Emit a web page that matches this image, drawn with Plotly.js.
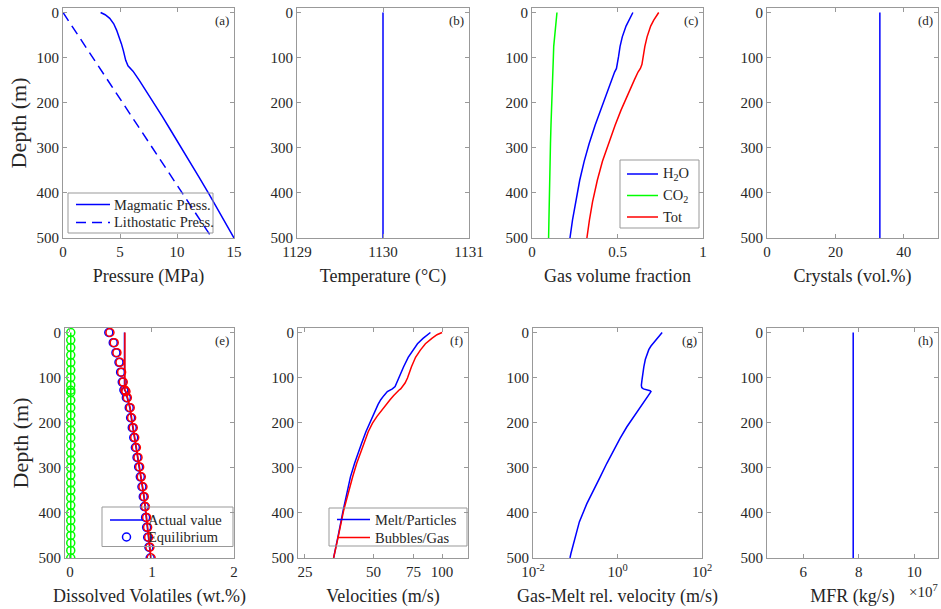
<!DOCTYPE html>
<html><head><meta charset="utf-8">
<script src="https://cdn.plot.ly/plotly-3.0.1.min.js"></script>
<style>html,body{margin:0;padding:0;background:#fff}#chart{width:941px;height:609px}</style>
</head><body><div id="chart"></div>
<script>
// ---- (a) Pressure ----
const depthP = [0, 5, 13, 25, 39, 55, 69, 85, 106, 118, 124, 130, 150, 172, 200, 231, 260, 291, 330, 365, 402, 450, 500];
const magmaticP = [3.3, 3.7, 4.1, 4.45, 4.7, 4.95, 5.12, 5.3, 5.5, 5.7, 5.94, 6.14, 6.68, 7.25, 7.95, 8.72, 9.42, 10.18, 11.1, 11.93, 12.8, 13.9, 15.0];
const depthL = [0, 500];
const lithoP = [0, 13.07];
// ---- (b) Temperature ----
const depthT = [0, 500];
const temperature = [1130, 1130];
// ---- (c) Gas volume fraction ----
const depthG = [0, 8, 17, 30, 54, 75, 98, 115, 124, 132, 150, 175, 200, 217, 250, 291, 330, 372, 420, 460, 500];
const gvfH2O = [0.59, 0.579, 0.566, 0.55, 0.528, 0.515, 0.506, 0.50, 0.494, 0.483, 0.465, 0.44, 0.416, 0.400, 0.369, 0.334, 0.305, 0.279, 0.254, 0.237, 0.222];
const gvfCO2 = [0.146, 0.144, 0.141, 0.137, 0.131, 0.127, 0.125, 0.123, 0.122, 0.121, 0.119, 0.117, 0.115, 0.114, 0.111, 0.108, 0.105, 0.103, 0.100, 0.099, 0.097];
const gvfTot = [0.741, 0.727, 0.712, 0.694, 0.673, 0.66, 0.65, 0.643, 0.634, 0.62, 0.598, 0.568, 0.539, 0.52, 0.486, 0.446, 0.412, 0.382, 0.354, 0.336, 0.321];
// ---- (d) Crystals ----
const depthC = [0, 500];
const crystals = [33, 33];
// ---- (e) Dissolved volatiles ----
const eqDepth = [0, 22.5, 44.7, 66, 88, 110, 127.5, 131, 144.5, 166.7, 189, 211, 233, 255, 277, 298, 320, 342, 364, 386, 410, 432, 454, 476, 500];
const eqTot = [0.488, 0.54, 0.573, 0.61, 0.63, 0.65, 0.67, 0.683, 0.70, 0.735, 0.752, 0.772, 0.79, 0.81, 0.83, 0.85, 0.87, 0.89, 0.906, 0.92, 0.935, 0.947, 0.96, 0.975, 0.99];
const eqH2O = [0.474, 0.528, 0.561, 0.598, 0.618, 0.638, 0.658, 0.671, 0.688, 0.723, 0.74, 0.76, 0.778, 0.798, 0.818, 0.838, 0.858, 0.878, 0.894, 0.908, 0.923, 0.935, 0.948, 0.963, 0.978];
const actDepth = [0, 127.5, 131, 144.5, 166.7, 189, 211, 233, 255, 277, 298, 320, 342, 364, 386, 410, 432, 454, 476, 500];
const actTot = [0.67, 0.67, 0.683, 0.70, 0.735, 0.752, 0.772, 0.79, 0.81, 0.83, 0.85, 0.87, 0.89, 0.906, 0.92, 0.935, 0.947, 0.96, 0.975, 0.99];
const actH2O = [0.665, 0.665, 0.678, 0.695, 0.73, 0.747, 0.767, 0.785, 0.805, 0.825, 0.845, 0.865, 0.885, 0.901, 0.915, 0.93, 0.942, 0.955, 0.97, 0.985];
const co2Depth = [0, 16.7, 33.3, 50, 66.7, 83.3, 100, 116.7, 128, 133, 150, 166.7, 183.3, 200, 216.7, 233.3, 250, 266.7, 283.3, 300, 316.7, 333.3, 350, 366.7, 383.3, 400, 416.7, 433.3, 450, 466.7, 483.3, 500];
const co2Val = [0.01, 0.01, 0.01, 0.01, 0.01, 0.01, 0.01, 0.01, 0.01, 0.01, 0.01, 0.01, 0.01, 0.01, 0.01, 0.01, 0.01, 0.01, 0.01, 0.01, 0.01, 0.01, 0.01, 0.01, 0.01, 0.01, 0.01, 0.01, 0.01, 0.01, 0.01, 0.01];
// ---- (f) Velocities ----
const velDepth = [0, 5, 13, 25, 39, 55, 76, 90, 101, 112, 120, 125, 128, 131, 140, 149, 160, 172, 186, 201, 220, 246, 260, 290, 320, 355, 394, 450, 500];
const velMelt = [88.9, 86, 82.5, 78, 74.5, 71, 67.8, 65.8, 64.5, 63.2, 62.2, 60.5, 58.8, 57.5, 55.5, 53.8, 52.3, 51.0, 49.4, 47.9, 46.3, 44.3, 43.3, 41.3, 39.6, 38.2, 36.8, 35.0, 33.4];
const velGas = [100, 95, 90.2, 84.5, 80.3, 76.5, 73.4, 71.8, 70.5, 68.8, 67.2, 65.8, 64.6, 63.6, 61.2, 59.1, 56.8, 54.5, 51.8, 49.5, 47.4, 45.4, 44.3, 42.2, 40.5, 38.7, 37.0, 35.1, 33.4];
// ---- (g) Relative velocity ----
const relDepth = [0, 4, 8, 13, 17, 24, 30, 38, 47, 60, 76, 90, 105, 117, 122, 125, 127, 129, 131, 134, 140, 150, 165, 185, 209, 235, 261, 290, 320, 350, 380, 420, 469, 490, 500];
const relVel = [11.4, 10.5, 9.6, 8.7, 7.9, 6.9, 6.2, 5.5, 5.0, 4.55, 4.2, 3.95, 3.8, 3.67, 3.75, 4.1, 5.0, 5.9, 6.2, 5.9, 5.2, 4.4, 3.5, 2.5, 1.67, 1.15, 0.80, 0.56, 0.39, 0.27, 0.187, 0.125, 0.089, 0.079, 0.075];
// ---- (h) Mass flow rate ----
const depthM = [0, 500];
const mfr = [7.8e7, 7.8e7];
// ---- legend labels ----
const legendA = ['Magmatic Press.', 'Lithostatic Press.'];
const legendC = ['H<sub>2</sub>O', 'CO<sub>2</sub>', 'Tot'];
const legendE = ['Actual value', 'Equilibrium'];
const legendF = ['Melt/Particles', 'Bubbles/Gas'];

const W = 941, H = 609;
const FONT = 'Liberation Serif, Times New Roman, serif';
const FRAME = '#999999';
const TXT = '#262626';
const BLUE = '#0000ff', RED = '#ff0000', GREEN = '#00ff00';

const topCols = [[63, 234], [297, 469], [532, 703], [767, 938]];
const botCols = [[65, 234], [298, 468], [533, 702], [767, 938]];
const topRow = [8, 238], botRow = [328, 558];
const yd = r => [1 - r[1] / H, 1 - r[0] / H];
const xd = c => [c[0] / W, c[1] / W];
const px = v => v / W, py = v => 1 - v / H;

const layout = {
  width: W, height: H, margin: {l: 0, r: 0, t: 0, b: 0},
  paper_bgcolor: '#fff', plot_bgcolor: '#fff', showlegend: false,
  font: {family: FONT, size: 15, color: TXT},
  annotations: [], shapes: []
};

function ax(extra) {
  return Object.assign({
    showline: true, mirror: 'ticks', linecolor: FRAME, linewidth: 1,
    ticks: 'inside', ticklen: 4, tickcolor: FRAME, tickwidth: 1,
    showgrid: false, zeroline: false, fixedrange: true,
    tickfont: {family: FONT, size: 15, color: TXT}, automargin: false
  }, extra);
}

const panels = [
  {x: {range: [0, 15], tickvals: [0, 5, 10, 15], title: 'Pressure (MPa)'}, ytitle: 'Depth (m)', lab: '(a)'},
  {x: {range: [1129, 1131], tickvals: [1129, 1130, 1131], title: 'Temperature (°C)'}, lab: '(b)'},
  {x: {range: [0, 1], tickvals: [0, 0.5, 1], title: 'Gas volume fraction'}, lab: '(c)'},
  {x: {range: [0, 50], tickvals: [0, 20, 40], title: 'Crystals (vol.%)'}, lab: '(d)'},
  {x: {range: [-0.06, 2], tickvals: [0, 1, 2], title: 'Dissolved Volatiles (wt.%)'}, ytitle: 'Depth (m)', lab: '(e)'},
  {x: {type: 'log', range: [Math.log10(23.3), Math.log10(130)], tickvals: [25, 50, 75, 100], ticktext: ['25', '50', '75', '100'], title: 'Velocities (m/s)'}, lab: '(f)'},
  {x: {type: 'log', range: [-2, 2], tickvals: [0.01, 1, 100], ticktext: ['10<sup>-2</sup>', '10<sup>0</sup>', '10<sup>2</sup>'], title: 'Gas-Melt rel. velocity (m/s)'}, lab: '(g)'},
  {x: {range: [4.7e7, 10.85e7], tickvals: [6e7, 8e7, 1e8], ticktext: ['6', '8', '10'], title: 'MFR (kg/s)'}, lab: '(h)'}
];

panels.forEach((p, i) => {
  const n = i + 1;
  const xk = n === 1 ? 'xaxis' : 'xaxis' + n;
  const yk = n === 1 ? 'yaxis' : 'yaxis' + n;
  const col = i < 4 ? topCols[i % 4] : botCols[i % 4];
  const row = i < 4 ? topRow : botRow;
  const xo = Object.assign({}, p.x);
  const t = xo.title; delete xo.title;
  layout[xk] = ax(Object.assign(xo, {
    domain: xd(col), anchor: n === 1 ? 'y' : 'y' + n,
    tickmode: 'array',
    title: {text: t, font: {family: FONT, size: 18, color: TXT}, standoff: 10}
  }));
  const yo = {
    domain: yd(row), anchor: n === 1 ? 'x' : 'x' + n,
    range: [500, -10], tickmode: 'array', tickvals: [0, 100, 200, 300, 400, 500]
  };
  if (p.ytitle) yo.title = {text: p.ytitle, font: {family: FONT, size: 22, color: TXT}, standoff: 3};
  layout[yk] = ax(yo);
  layout.annotations.push({
    xref: 'paper', yref: 'paper', x: px(col[1] - 3), y: py(row[0] + 3),
    xanchor: 'right', yanchor: 'top', text: p.lab, showarrow: false,
    font: {family: FONT, size: 13, color: TXT}
  });
});

layout.annotations.push({
  xref: 'paper', yref: 'paper', x: px(940), y: py(591), xanchor: 'right', yanchor: 'middle',
  text: '×10<sup>7</sup>', showarrow: false, font: {family: FONT, size: 15, color: TXT}
});

// ---- hand-drawn legends (MATLAB style: transparent box) ----
function drawLegend(box, lineX, textX, items) {
  layout.shapes.push({type: 'rect', xref: 'paper', yref: 'paper', x0: px(box[0]), x1: px(box[1]),
    y0: py(box[3]), y1: py(box[2]), line: {color: FRAME, width: 1}, fillcolor: 'rgba(0,0,0,0)'});
  items.forEach(it => {
    if (it.marker) {
      const cx = (lineX[0] + lineX[1]) / 2;
      layout.shapes.push({type: 'circle', xref: 'paper', yref: 'paper', x0: px(cx - 4), x1: px(cx + 4),
        y0: py(it.y + 4), y1: py(it.y - 4), line: {color: it.color, width: 1.5}});
    } else {
      layout.shapes.push({type: 'line', xref: 'paper', yref: 'paper', x0: px(lineX[0]), x1: px(lineX[1]),
        y0: py(it.y), y1: py(it.y), line: {color: it.color, width: 1.5, dash: it.dash || 'solid'}});
    }
    layout.annotations.push({xref: 'paper', yref: 'paper', x: px(textX), y: py(it.y), xanchor: 'left', yanchor: 'middle',
      text: it.text, showarrow: false, font: {family: FONT, size: 14.5, color: TXT}});
  });
}
drawLegend([68, 213, 193, 233], [76, 110], 112, [
  {y: 204.5, color: BLUE, text: legendA[0]},
  {y: 222.5, color: BLUE, dash: '10px,6px', text: legendA[1]}
]);
drawLegend([620, 699, 160, 228], [627, 658], 661, [
  {y: 174, color: BLUE, text: legendC[0]},
  {y: 195.5, color: GREEN, text: legendC[1]},
  {y: 217, color: RED, text: legendC[2]}
]);
drawLegend([102, 233, 507, 546.5], [110, 143], 146, [
  {y: 520, color: BLUE, text: legendE[0]},
  {y: 537, color: BLUE, marker: true, text: legendE[1]}
]);
drawLegend([329, 467, 508, 546], [337, 370], 373, [
  {y: 519.5, color: BLUE, text: legendF[0]},
  {y: 537.5, color: RED, text: legendF[1]}
]);

const L = (c, w, d) => ({color: c, width: w || 1.5, dash: d || 'solid'});
const circ = c => ({symbol: 'circle-open', size: 8, color: c, line: {width: 1.5, color: c}});
const data = [
  // (a)
  {x: magmaticP, y: depthP, xaxis: 'x', yaxis: 'y', mode: 'lines', line: L(BLUE), name: legendA[0]},
  {x: lithoP, y: depthL, xaxis: 'x', yaxis: 'y', mode: 'lines', line: L(BLUE, 1.5, '10px,6px'), name: legendA[1]},
  // (b)
  {x: temperature, y: depthT, xaxis: 'x2', yaxis: 'y2', mode: 'lines', line: L(BLUE)},
  // (c)
  {x: gvfH2O, y: depthG, xaxis: 'x3', yaxis: 'y3', mode: 'lines', line: L(BLUE), name: 'H2O'},
  {x: gvfCO2, y: depthG, xaxis: 'x3', yaxis: 'y3', mode: 'lines', line: L(GREEN), name: 'CO2'},
  {x: gvfTot, y: depthG, xaxis: 'x3', yaxis: 'y3', mode: 'lines', line: L(RED), name: 'Tot'},
  // (d)
  {x: crystals, y: depthC, xaxis: 'x4', yaxis: 'y4', mode: 'lines', line: L(BLUE)},
  // (e)
  {x: actH2O, y: actDepth, xaxis: 'x5', yaxis: 'y5', mode: 'lines', line: L(BLUE), name: legendE[0]},
  {x: eqH2O, y: eqDepth, xaxis: 'x5', yaxis: 'y5', mode: 'markers', marker: circ(BLUE), name: legendE[1]},
  {x: co2Val, y: co2Depth, xaxis: 'x5', yaxis: 'y5', mode: 'lines+markers', line: L(GREEN), marker: circ(GREEN)},
  {x: actTot, y: actDepth, xaxis: 'x5', yaxis: 'y5', mode: 'lines', line: L(RED)},
  {x: eqTot, y: eqDepth, xaxis: 'x5', yaxis: 'y5', mode: 'markers', marker: circ(RED)},
  // (f)
  {x: velMelt, y: velDepth, xaxis: 'x6', yaxis: 'y6', mode: 'lines', line: L(BLUE), name: legendF[0]},
  {x: velGas, y: velDepth, xaxis: 'x6', yaxis: 'y6', mode: 'lines', line: L(RED), name: legendF[1]},
  // (g)
  {x: relVel, y: relDepth, xaxis: 'x7', yaxis: 'y7', mode: 'lines', line: L(BLUE)},
  // (h)
  {x: mfr, y: depthM, xaxis: 'x8', yaxis: 'y8', mode: 'lines', line: L(BLUE)}
];

Plotly.newPlot('chart', data, layout, {displayModeBar: false, staticPlot: true});
</script></body></html>
